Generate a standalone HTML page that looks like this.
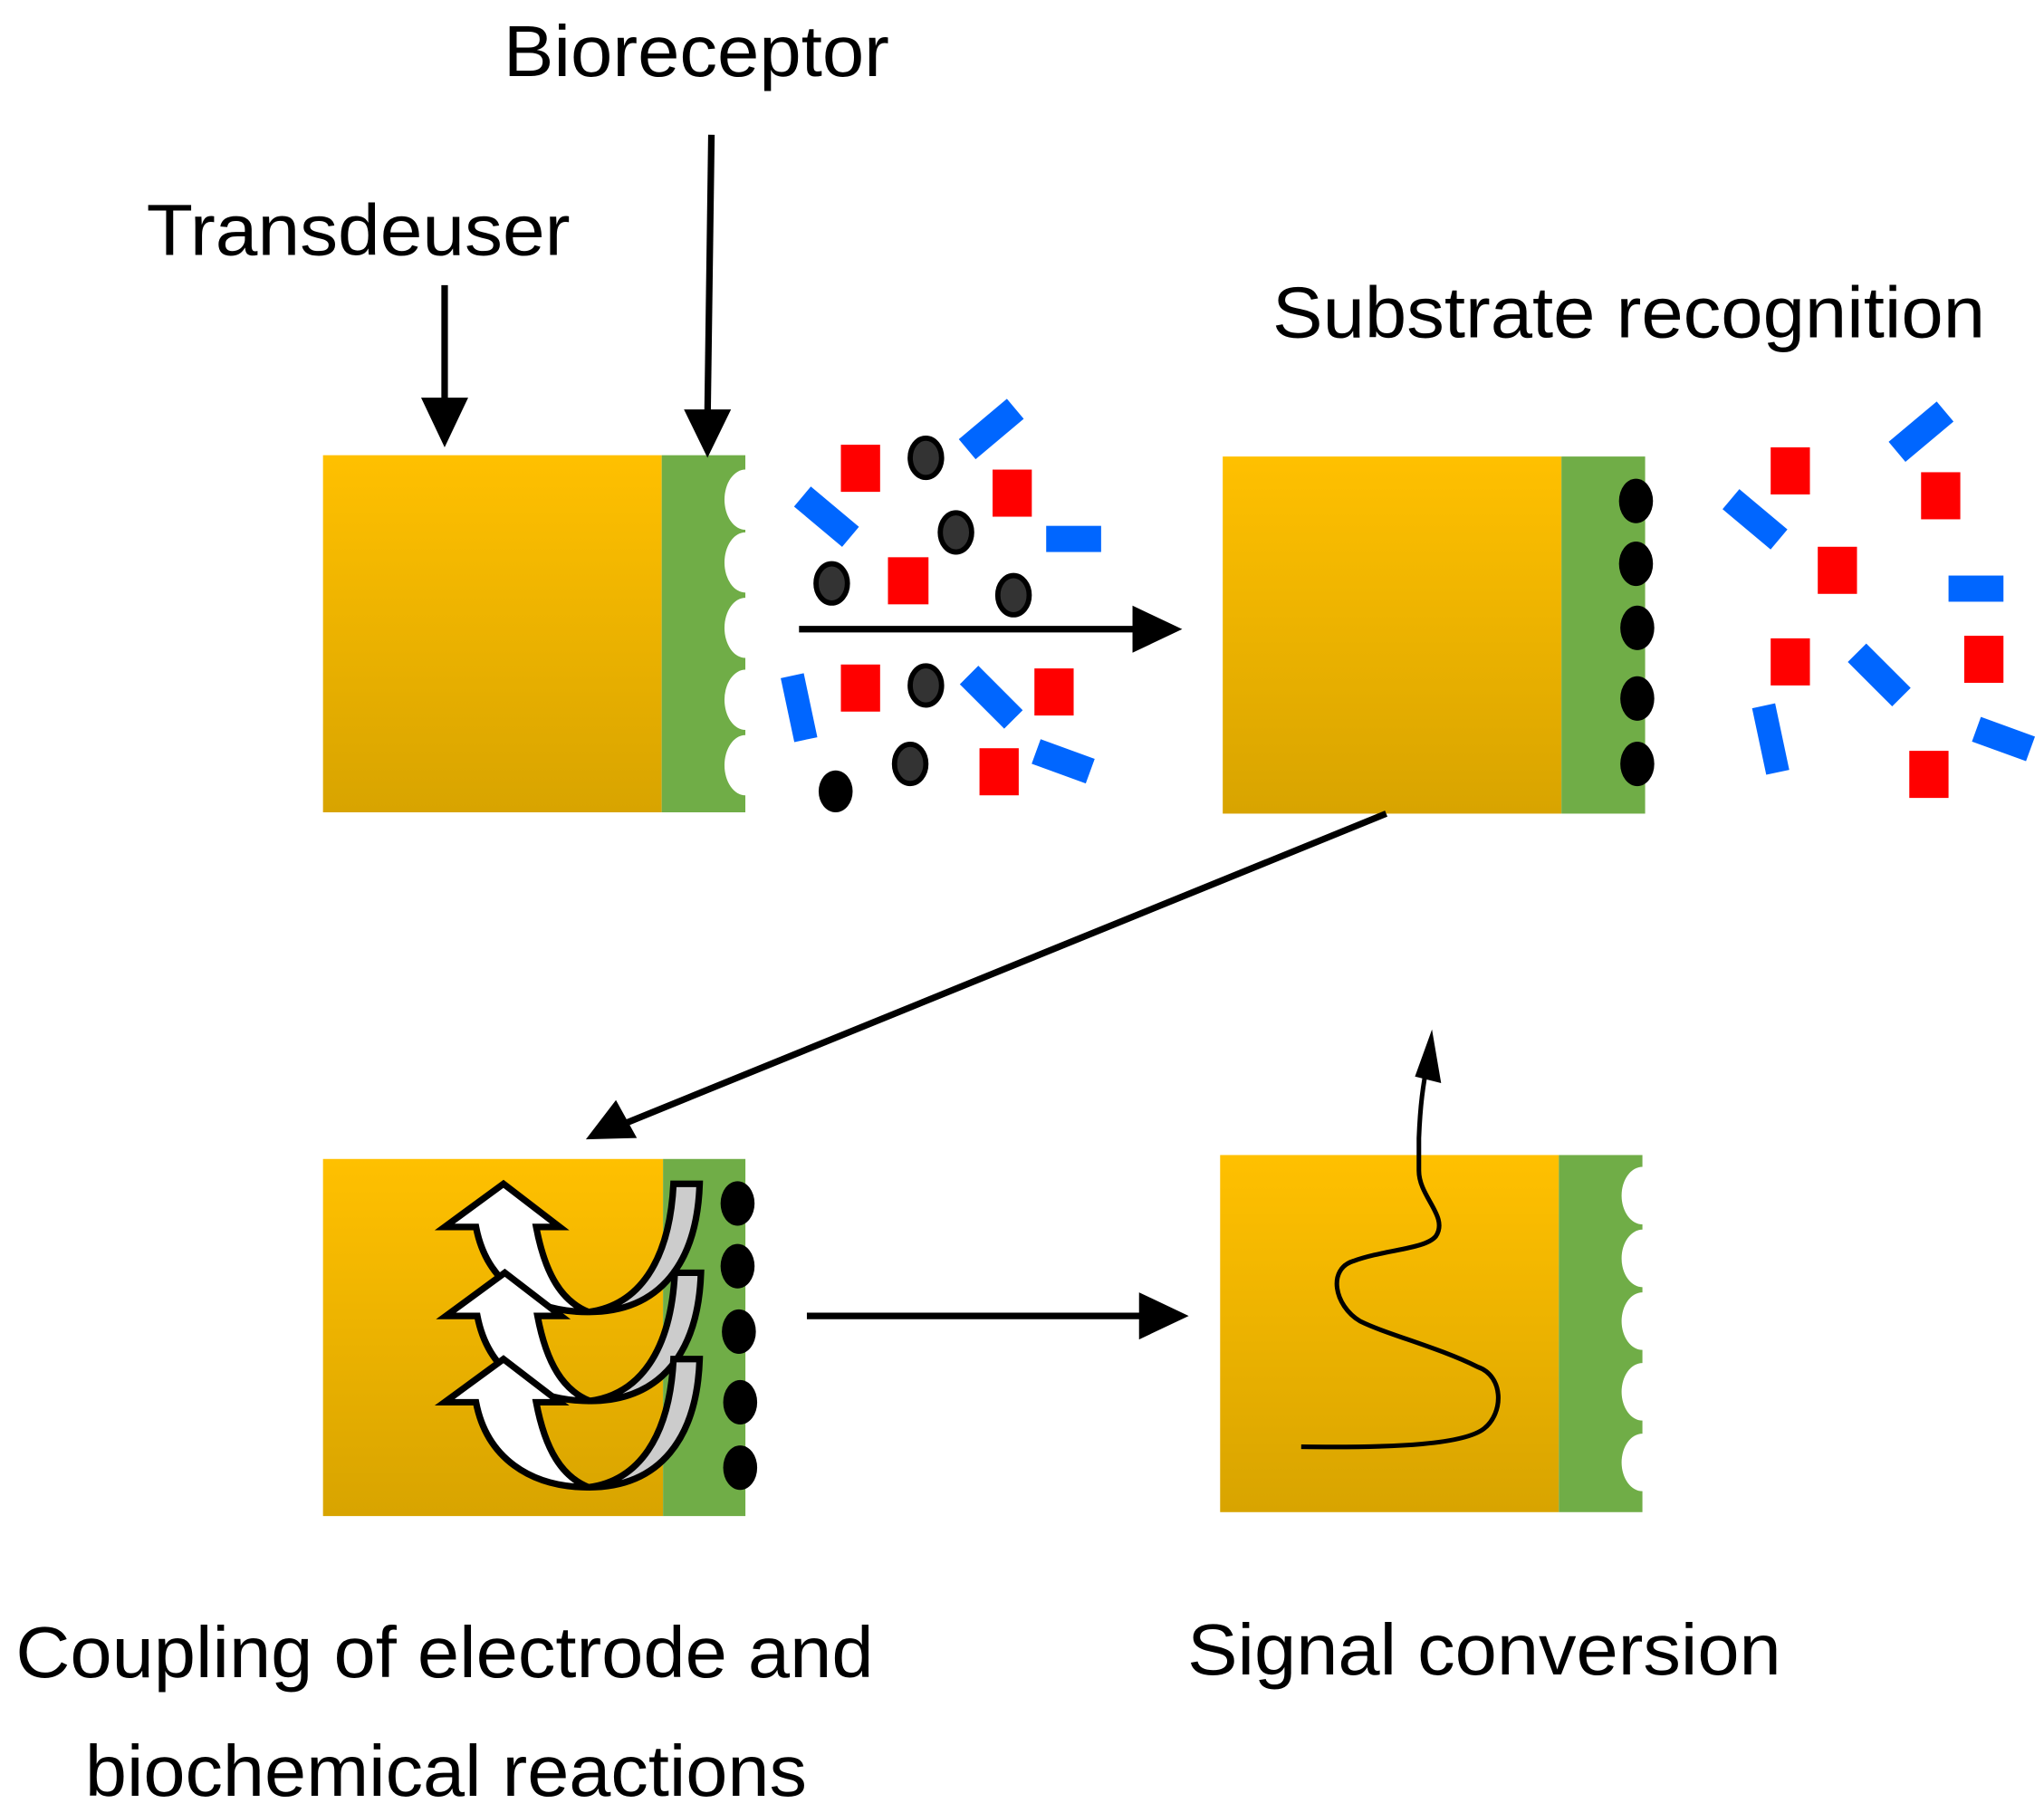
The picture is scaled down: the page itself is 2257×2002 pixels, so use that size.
<!DOCTYPE html>
<html><head><meta charset="utf-8"><style>html,body{margin:0;padding:0;background:#fff}svg{display:block}</style></head>
<body>
<svg width="2257" height="2002" viewBox="0 0 1563 1386" preserveAspectRatio="none" xmlns="http://www.w3.org/2000/svg" font-family="Liberation Sans, sans-serif">
<defs>
<linearGradient id="g" x1="0" y1="0" x2="0" y2="1"><stop offset="0" stop-color="#FFC000"/><stop offset="1" stop-color="#D8A400"/></linearGradient>
<g id="arr">
 <path d="M535,905 L515,905 C512,965 488,998 450,1003 C505,1003 533,965 535,905 Z" fill="#ccc" stroke="#000" stroke-width="5"/>
 <path d="M340,938 L385,905 L428,938 L410,938 C417,975 430,995 450,1003 C405,1003 372,980 364,938 Z" fill="#fff" stroke="#000" stroke-width="5"/>
</g>
</defs>
<rect width="1563" height="1386" fill="#fff"/>
<g font-size="55" fill="#000" lengthAdjust="spacingAndGlyphs">
<text x="385" y="58" textLength="295" lengthAdjust="spacingAndGlyphs">Bioreceptor</text>
<text x="112" y="195" textLength="324" lengthAdjust="spacingAndGlyphs">Transdeuser</text>
<text x="973" y="258" textLength="545" lengthAdjust="spacingAndGlyphs">Substrate recognition</text>
<text x="12" y="1282" textLength="656" lengthAdjust="spacingAndGlyphs">Coupling of electrode and</text>
<text x="65" y="1373" textLength="552" lengthAdjust="spacingAndGlyphs">biochemical reactions</text>
<text x="908" y="1280" textLength="454" lengthAdjust="spacingAndGlyphs">Signal conversion</text>
</g>
<rect x="247" y="348" width="259" height="273" fill="url(#g)"/><rect x="506" y="348" width="64" height="273" fill="#70AD47"/>
<rect x="935" y="349" width="259" height="273" fill="url(#g)"/><rect x="1194" y="349" width="64" height="273" fill="#70AD47"/>
<rect x="247" y="886" width="260" height="273" fill="url(#g)"/><rect x="507" y="886" width="63" height="273" fill="#70AD47"/>
<rect x="933" y="883" width="259" height="273" fill="url(#g)"/><rect x="1192" y="883" width="64" height="273" fill="#70AD47"/>
<g fill="#fff">
<ellipse cx="570" cy="382" rx="16" ry="23"/><ellipse cx="570" cy="430" rx="16" ry="23"/><ellipse cx="570" cy="480" rx="16" ry="23"/><ellipse cx="570" cy="535" rx="16" ry="23"/><ellipse cx="570" cy="585" rx="16" ry="23"/>
<ellipse cx="1256" cy="914" rx="16" ry="22"/><ellipse cx="1256" cy="962" rx="16" ry="22"/><ellipse cx="1256" cy="1010" rx="16" ry="22"/><ellipse cx="1256" cy="1064" rx="16" ry="22"/><ellipse cx="1256" cy="1118" rx="16" ry="22"/>
</g>
<rect x="570" y="340" width="20" height="290" fill="#fff"/>
<rect x="1256" y="875" width="20" height="290" fill="#fff"/>
<g fill="#000">
<ellipse cx="1251" cy="383" rx="13" ry="17"/><ellipse cx="1251" cy="431" rx="13" ry="17"/><ellipse cx="1252" cy="480" rx="13" ry="17"/><ellipse cx="1252" cy="534" rx="13" ry="17"/><ellipse cx="1252" cy="584" rx="13" ry="17"/>
<ellipse cx="564" cy="920" rx="13" ry="17"/><ellipse cx="564" cy="968" rx="13" ry="17"/><ellipse cx="565" cy="1018" rx="13" ry="17"/><ellipse cx="566" cy="1072" rx="13" ry="17"/><ellipse cx="566" cy="1122" rx="13" ry="17"/>
<ellipse cx="639" cy="605" rx="13" ry="16"/>
</g>
<g fill="#FF0000">
<rect x="643" y="340" width="30" height="36"/><rect x="759" y="359" width="30" height="36"/><rect x="679" y="426" width="31" height="36"/><rect x="643" y="508" width="30" height="36"/><rect x="791" y="511" width="30" height="36"/><rect x="749" y="572" width="30" height="36"/>
<rect x="1354" y="342" width="30" height="36"/><rect x="1469" y="361" width="30" height="36"/><rect x="1390" y="418" width="30" height="36"/><rect x="1354" y="488" width="30" height="36"/><rect x="1502" y="486" width="30" height="36"/><rect x="1460" y="574" width="30" height="36"/>
</g>
<g fill="#333" stroke="#000" stroke-width="4">
<ellipse cx="708" cy="350" rx="12" ry="15"/><ellipse cx="731" cy="407" rx="12" ry="15"/><ellipse cx="636" cy="446" rx="12" ry="15"/><ellipse cx="775" cy="455" rx="12" ry="15"/><ellipse cx="708" cy="524" rx="12" ry="15"/><ellipse cx="696" cy="584" rx="12" ry="15"/>
</g>
<g fill="#0066FF">
<rect x="-24" y="-10" width="48" height="20" transform="translate(758,328) rotate(-40)"/>
<rect x="-24" y="-10" width="48" height="20" transform="translate(632,395) rotate(40)"/>
<rect x="800" y="402" width="42" height="20"/>
<rect x="-25" y="-9" width="50" height="18" transform="translate(611,541) rotate(78)"/>
<rect x="-24" y="-10" width="48" height="20" transform="translate(758,533) rotate(45)"/>
<rect x="-22" y="-10" width="44" height="20" transform="translate(813,582) rotate(20)"/>
<rect x="-24" y="-10" width="48" height="20" transform="translate(1469,330) rotate(-40)"/>
<rect x="-24" y="-10" width="48" height="20" transform="translate(1342,397) rotate(40)"/>
<rect x="1490" y="440" width="42" height="20"/>
<rect x="-24" y="-10" width="48" height="20" transform="translate(1437,516) rotate(45)"/>
<rect x="-26" y="-9" width="52" height="18" transform="translate(1354,565) rotate(78)"/>
<rect x="-22" y="-10" width="44" height="20" transform="translate(1532,565) rotate(20)"/>
</g>
<g stroke="#000" stroke-width="5" fill="none">
<line x1="340" y1="218" x2="340" y2="310"/>
<line x1="544" y1="103" x2="541" y2="320"/>
<line x1="611" y1="481" x2="870" y2="481"/>
<line x1="1060" y1="622" x2="475" y2="860"/>
<line x1="617" y1="1006" x2="875" y2="1006"/>
<path d="M995,1106 C1070,1107 1120,1104 1135,1092 C1150,1080 1150,1052 1130,1045 C1100,1030 1060,1020 1040,1010 C1020,998 1015,970 1035,964 C1060,955 1090,955 1098,945 C1108,930 1085,915 1085,895 L1085,870 C1086,845 1088,830 1092,810" stroke-width="3.5"/>
</g>
<g fill="#000">
<polygon points="322,304 358,304 340,342"/>
<polygon points="523,313 559,313 541,350"/>
<polygon points="866,463 904,481 866,499"/>
<polygon points="448,871 471,841 487,870"/>
<polygon points="871,988 909,1006 871,1024"/>
<polygon points="1095,787 1102,828 1082,823"/>
</g>
<use href="#arr"/>
<use href="#arr" transform="translate(1,68)"/>
<use href="#arr" transform="translate(0,134)"/>
</svg>
</body></html>
